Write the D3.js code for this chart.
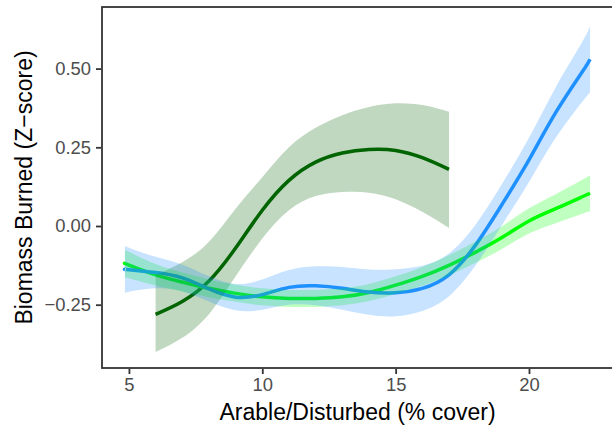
<!DOCTYPE html>
<html>
<head>
<meta charset="utf-8">
<script src="https://cdn.jsdelivr.net/npm/d3@7"></script>
<style>
	body { margin: 0; background: #fff; }
	text { font-family: "Liberation Sans", Arial, Helvetica, sans-serif; }
</style>
</head>
<body>
<script>
// values (x = % cover, y = z-score)
const darkX = [6, 7, 8, 9, 10, 11, 12, 13, 14, 15, 16, 17];
const darkFit = [-0.281, -0.24, -0.175, -0.07, 0.05, 0.145, 0.203, 0.232, 0.243, 0.24, 0.217, 0.18];
const darkLow = [-0.40, -0.355, -0.28, -0.16, -0.04, 0.05, 0.095, 0.108, 0.106, 0.085, 0.045, -0.006];
const darkHigh = [-0.156, -0.115, -0.05, 0.055, 0.155, 0.25, 0.312, 0.352, 0.378, 0.39, 0.384, 0.363];

const blueX = [4.85, 5, 6, 7, 8, 9, 10, 11, 12, 13, 14, 15, 16, 17, 18, 19, 20, 21, 22, 22.29];
const blueFit = [-0.138, -0.139, -0.148, -0.165, -0.2, -0.226, -0.218, -0.195, -0.19, -0.198, -0.21, -0.212, -0.198, -0.155, -0.06, 0.07, 0.21, 0.36, 0.49, 0.53];
const blueLow = [-0.215, -0.209, -0.198, -0.207, -0.24, -0.268, -0.266, -0.25, -0.252, -0.266, -0.282, -0.287, -0.27, -0.223, -0.125, 0.005, 0.14, 0.28, 0.395, 0.425];
const blueHigh = [-0.061, -0.069, -0.098, -0.123, -0.16, -0.184, -0.17, -0.14, -0.128, -0.13, -0.138, -0.137, -0.126, -0.087, 0.005, 0.135, 0.28, 0.44, 0.585, 0.635];

const limeX = [4.85, 5, 6, 7, 8, 9, 10, 11, 12, 13, 14, 15, 16, 17, 18, 19, 20, 21, 22, 22.29];
const limeFit = [-0.119, -0.124, -0.155, -0.178, -0.198, -0.214, -0.225, -0.23, -0.23, -0.225, -0.211, -0.188, -0.16, -0.125, -0.083, -0.036, 0.016, 0.055, 0.093, 0.104];
const limeLow = [-0.164, -0.166, -0.189, -0.208, -0.226, -0.241, -0.252, -0.257, -0.257, -0.252, -0.238, -0.216, -0.19, -0.157, -0.117, -0.072, -0.024, 0.009, 0.039, 0.047];
const limeHigh = [-0.074, -0.082, -0.121, -0.148, -0.17, -0.187, -0.198, -0.203, -0.203, -0.198, -0.184, -0.16, -0.13, -0.093, -0.049, 0.0, 0.056, 0.101, 0.147, 0.161];

const xTicks = [5, 10, 15, 20];
const yTicks = [-0.25, 0, 0.25, 0.5];

const width = 612, height = 434;
const panelLeft = 102, panelRight = 613, panelTop = 7, panelBottom = 368;

const svg = d3.select("body").append("svg")
	.attr("width", width)
	.attr("height", height);

const xScale = d3.scaleLinear().domain([3.99, 23.15]).range([panelLeft, panelRight]);
const yScale = d3.scaleLinear().domain([-0.4511, 0.6957]).range([panelBottom, panelTop]);

svg.append("clipPath").attr("id", "panel")
	.append("rect")
	.attr("x", panelLeft).attr("y", panelTop)
	.attr("width", panelRight - panelLeft).attr("height", panelBottom - panelTop);

const plot = svg.append("g").attr("clip-path", "url(#panel)");

const series = [
	{ x: darkX, fit: darkFit, lo: darkLow, hi: darkHigh, color: "#006400" },
	{ x: limeX, fit: limeFit, lo: limeLow, hi: limeHigh, color: "#00FF00" },
	{ x: blueX, fit: blueFit, lo: blueLow, hi: blueHigh, color: "#1E90FF" }
];

function rows(s) {
	return s.x.map((x, i) => ({ x: x, fit: s.fit[i], lo: s.lo[i], hi: s.hi[i] }));
}

const line = d3.line()
	.curve(d3.curveNatural)
	.x((d) => xScale(d.x))
	.y((d) => yScale(d.fit));

const area = d3.area()
	.curve(d3.curveNatural)
	.x((d) => xScale(d.x))
	.y0((d) => yScale(d.lo))
	.y1((d) => yScale(d.hi));

// lines first, ribbons laid over them
series.forEach((s) => {
	plot.append("path")
		.attr("d", line(rows(s)))
		.attr("fill", "none")
		.attr("stroke", s.color)
		.attr("stroke-width", 3.5);
});
series.forEach((s) => {
	plot.append("path")
		.attr("d", area(rows(s)))
		.attr("fill", s.color)
		.attr("fill-opacity", 0.25);
});

// panel border
svg.append("rect")
	.attr("x", panelLeft).attr("y", panelTop)
	.attr("width", panelRight - panelLeft).attr("height", panelBottom - panelTop)
	.attr("fill", "none")
	.attr("stroke", "#333333")
	.attr("stroke-width", 1.8);

const xAxis = d3.axisBottom(xScale).tickValues(xTicks).tickSize(5).tickPadding(4)
	.tickFormat(d3.format("d"));
const yAxis = d3.axisLeft(yScale).tickValues(yTicks).tickSize(5).tickPadding(5)
	.tickFormat((d) => d3.format(".2f")(d).replace("-", "\u2212"));

svg.append("g")
	.attr("transform", "translate(0," + (panelBottom + 1) + ")")
	.call(xAxis)
	.call((g) => g.select(".domain").remove());
svg.append("g")
	.attr("transform", "translate(" + (panelLeft - 1) + ",0)")
	.call(yAxis)
	.call((g) => g.select(".domain").remove());

svg.selectAll(".tick line").attr("stroke", "#333333").attr("stroke-width", 1.8);
svg.selectAll(".tick text")
	.attr("fill", "#4D4D4D")
	.style("font-size", "18.4px");

svg.append("text")
	.attr("x", (panelLeft + panelRight) / 2)
	.attr("y", 420)
	.attr("text-anchor", "middle")
	.style("font-size", "23px")
	.text("Arable/Disturbed (% cover)");

svg.append("text")
	.attr("transform", "translate(32," + (panelTop + panelBottom) / 2 + ") rotate(-90)")
	.attr("text-anchor", "middle")
	.style("font-size", "23px")
	.text("Biomass Burned (Z\u2212score)");
</script>
</body>
</html>
